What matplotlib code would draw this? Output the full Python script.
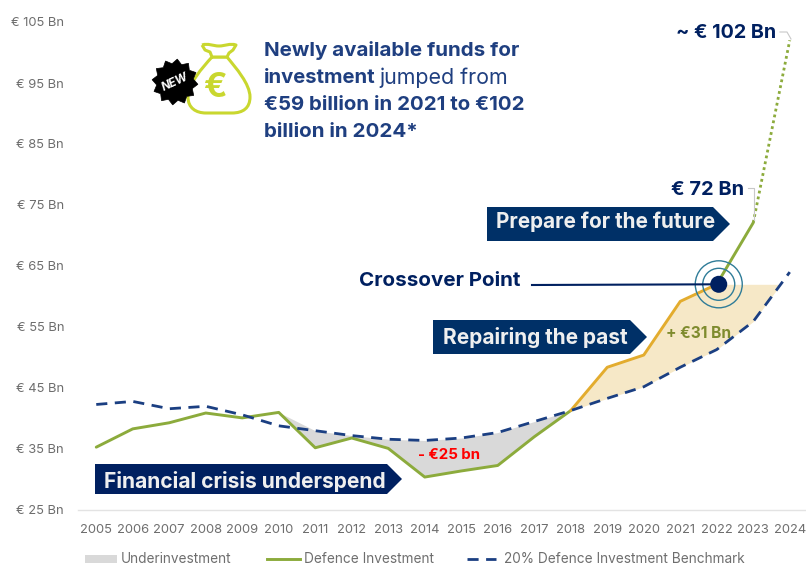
import matplotlib
matplotlib.use("Agg")
import numpy as np
import matplotlib.pyplot as plt
from matplotlib.patches import Polygon, Circle, PathPatch, Rectangle
from matplotlib.path import Path

years = list(range(2005, 2025))
defence = [35.3, 38.3, 39.3, 40.9, 40.1, 41.0, 35.2, 36.8, 35.1, 30.4,
           31.4, 32.3, 37.0, 41.3, 48.4, 50.4, 59.2, 62.0, 72.1, 102.0]
benchmark = [42.3, 42.8, 41.6, 42.0, 40.6, 38.8, 38.0, 37.2, 36.6, 36.4,
             36.8, 37.7, 39.5, 41.3, 43.3, 45.2, 48.4, 51.3, 55.9, 64.0]
ytick_values = [25, 35, 45, 55, 65, 75, 85, 95, 105]
crossover_year = 2022
crossover_value = 62.0

NAVY = "#002060"
BANNER = "#003067"
HEAD = "#1F3F80"
GREEN = "#8CAB3C"
ORANGE = "#E3AC2E"
DASH = "#1B3F82"
GREY_TXT = "#6E6E6E"
BAG = "#C9D72F"

plt.rcParams["font.family"] = ["Inter", "DejaVu Sans"]

W, H = 806, 565
fig = plt.figure(figsize=(W / 100, H / 100), dpi=100, facecolor="white")
ax = fig.add_axes([78 / W, 1 - 510 / H, 730 / W, (510 - 22) / H])
ax.set_xlim(2004.5, 2024.5)
ax.set_ylim(25, 105)

yrs = np.array(years, dtype=float)
d = np.array(defence)
b = np.array(benchmark)

# Shortfall between benchmark and spend, 2010-2018
i0, i1 = years.index(2010), years.index(2018)
upper = b[i0:i1 + 1].copy()
upper[0] = d[i0]
ax.fill_between(yrs[i0:i1 + 1], d[i0:i1 + 1], upper, color="#D9D9D9", lw=0, zorder=1)

# Surplus above the benchmark, capped at the crossover level
i2 = years.index(2022)
i3 = years.index(2023)
cross_x = np.interp(crossover_value, b[i3:], yrs[i3:])
sx = np.r_[yrs[i1:i2 + 1], yrs[i3], cross_x]
s_top = np.r_[d[i1:i2 + 1], crossover_value, crossover_value]
s_bot = np.r_[b[i1:i2 + 1], b[i3], crossover_value]
ax.fill_between(sx, s_bot, s_top, color="#F6E8C7", lw=0, zorder=1)

# Spend line, split into its three phases
ax.plot(yrs[:i1 + 1], d[:i1 + 1], color=GREEN, lw=2.1, zorder=3, solid_capstyle="round")
ax.plot(yrs[i1:i2 + 1], d[i1:i2 + 1], color=ORANGE, lw=2.1, zorder=3, solid_capstyle="round")
ax.plot(yrs[i2:i3 + 1], d[i2:i3 + 1], color=GREEN, lw=2.1, zorder=3, solid_capstyle="round")
ax.plot(yrs[i3:], d[i3:], color=GREEN, lw=2.0, ls=(0, (1, 1.15)), zorder=3)

ax.plot(yrs, b, color=DASH, lw=2.0, ls=(0, (4.0, 2.7)), zorder=4)

for side in ("top", "right", "left"):
    ax.spines[side].set_visible(False)
ax.spines["bottom"].set_color("#E3E3E3")
ax.spines["bottom"].set_linewidth(1)
ax.set_xticks(years)
ax.set_xticklabels([str(y) for y in years], color=GREY_TXT, fontsize=9.3)
ax.set_yticks(ytick_values)
ax.set_yticklabels([f"€ {v} Bn" for v in ytick_values], color=GREY_TXT, fontsize=9.3)
ax.tick_params(length=0)
ax.tick_params(axis="x", pad=10)
ax.tick_params(axis="y", pad=10)
ax.patch.set_alpha(0)

# Overlay in pixel coordinates for annotations
ov = fig.add_axes([0, 0, 1, 1], zorder=5)
ov.set_xlim(0, W)
ov.set_ylim(H, 0)
ov.axis("off")
ov.patch.set_alpha(0)

def px(year, value):
    return ax.transData.transform((year, value)) * np.array([1, -1]) + np.array([0, H])

cx, cy = px(crossover_year, crossover_value)
cx += 2
for r in (16, 23.5):
    ov.add_patch(Circle((cx, cy), r, fc="none", ec="#2F7C98", lw=1.0, zorder=6))
ov.add_patch(Circle((cx, cy), 8.5, fc=NAVY, ec="none", zorder=8))
ov.plot([532, cx], [285, cy], color=NAVY, lw=1.5, zorder=7)
ov.text(359, 281.5, "Crossover Point", fontsize=14.8, fontweight="bold", color=NAVY,
        ha="left", va="center")

def banner(x0, x1, y0, y1, tip, label, color, size, tx, ty):
    pts = [(x0, y0), (x1, y0), (x1 + tip, (y0 + y1) / 2), (x1, y1), (x0, y1)]
    ov.add_patch(Polygon(pts, closed=True, fc=color, ec="none", zorder=5))
    ov.text(tx, ty, label, color="#EFEFEF", fontsize=size, fontweight="bold",
            ha="left", va="center", zorder=6)

banner(95, 387, 464, 494, 15, "Financial crisis underspend", NAVY, 15.1, 104, 482)
banner(433, 630, 320, 354, 17, "Repairing the past", BANNER, 15.0, 443, 337)
banner(487, 713, 207, 241, 17, "Prepare for the future", BANNER, 14.9, 496, 222)

ov.text(776, 33.5, "~ € 102 Bn", fontsize=14.2, fontweight="bold", color=NAVY, ha="right", va="center")
ov.text(744, 190, "€ 72 Bn", fontsize=14.4, fontweight="bold", color=NAVY, ha="right", va="center")
ov.plot([780, 787, 791], [32, 32, 39], color="#C8C8C8", lw=0.8, zorder=2)
ov.plot([748, 754, 754], [188, 188, 220], color="#C8C8C8", lw=0.8, zorder=2)

ov.text(449, 455, "- €25 bn", fontsize=10.8, fontweight="bold", color="#FF0000", ha="center", va="center")
ov.text(698.5, 333, "+ €31 Bn", fontsize=11.2, fontweight="bold", color="#7F8B2E", ha="center", va="center")

# Headline block
hl = dict(color=HEAD, va="center", ha="left")
ov.text(264, 50, "Newly available funds for", fontweight="bold", fontsize=14.8, **hl)
ov.text(264, 78, "investment", fontweight="bold", fontsize=14.6, **hl)
ov.text(379, 78, "jumped from", fontweight="normal", fontsize=15.4, **hl)
ov.text(264, 105, "€59 billion in 2021 to €102", fontweight="bold", fontsize=14.7, **hl)
ov.text(264, 132, "billion in 2024*", fontweight="bold", fontsize=14.8, **hl)

# Money bag icon
M, L, C = Path.MOVETO, Path.LINETO, Path.CURVE4
bag_body = Path(
    [(212, 57), (202, 68), (188, 84), (188, 97),
     (188, 108), (196, 113), (206, 113),
     (219, 113), (219, 113), (232, 113),
     (243, 113), (250, 108), (250, 97),
     (250, 84), (236, 68), (227, 57), (212, 57)],
    [M, C, C, C, C, C, C, C, C, C, C, C, C, C, C, C, L])
ov.add_patch(PathPatch(bag_body, fc="white", ec=BAG, lw=2.2, zorder=3, joinstyle="round"))
neck = Path([(202, 45), (208, 43), (213, 46), (219, 46), (225, 46), (230, 43), (236, 45),
             (233, 50), (229, 53), (227, 57), (212, 57), (210, 52), (205, 50), (202, 45)],
            [M, C, C, C, C, C, C, L, L, L, L, L, L, L])
ov.add_patch(PathPatch(neck, fc="white", ec=BAG, lw=2.2, zorder=3, joinstyle="round"))
ov.text(215, 88, "€", fontsize=25, fontweight="bold", color=BAG, ha="center", va="center", zorder=4)

# "New" starburst badge
n = 12
ang = np.linspace(0, 2 * np.pi, 2 * n, endpoint=False) + 0.1
rad = np.where(np.arange(2 * n) % 2 == 0, 23, 18.5)
ov.add_patch(Polygon(np.c_[175 + rad * np.cos(ang), 82 + rad * np.sin(ang)], closed=True,
                     fc="black", ec="black", lw=0.5, zorder=5))
ov.text(175, 82.5, "NEW", fontsize=8.4, fontweight="bold", style="italic", color="white",
        rotation=25, ha="center", va="center", rotation_mode="anchor", zorder=6)

# Legend row
leg = dict(fontsize=9.8, color=GREY_TXT, va="center", ha="left")
ov.add_patch(Rectangle((85, 555), 32, 8, fc="#D9D9D9", ec="none"))
ov.text(121, 559, "Underinvestment", **leg)
ov.plot([267, 300], [559, 559], color=GREEN, lw=2.1)
ov.text(304, 559, "Defence Investment", **leg)
ov.plot([467, 496], [559, 559], color=DASH, lw=2.0, ls=(0, (4.0, 2.7)))
ov.text(504, 559, "20% Defence Investment Benchmark", **leg)

fig.savefig("out.png", dpi=100, facecolor="white")
